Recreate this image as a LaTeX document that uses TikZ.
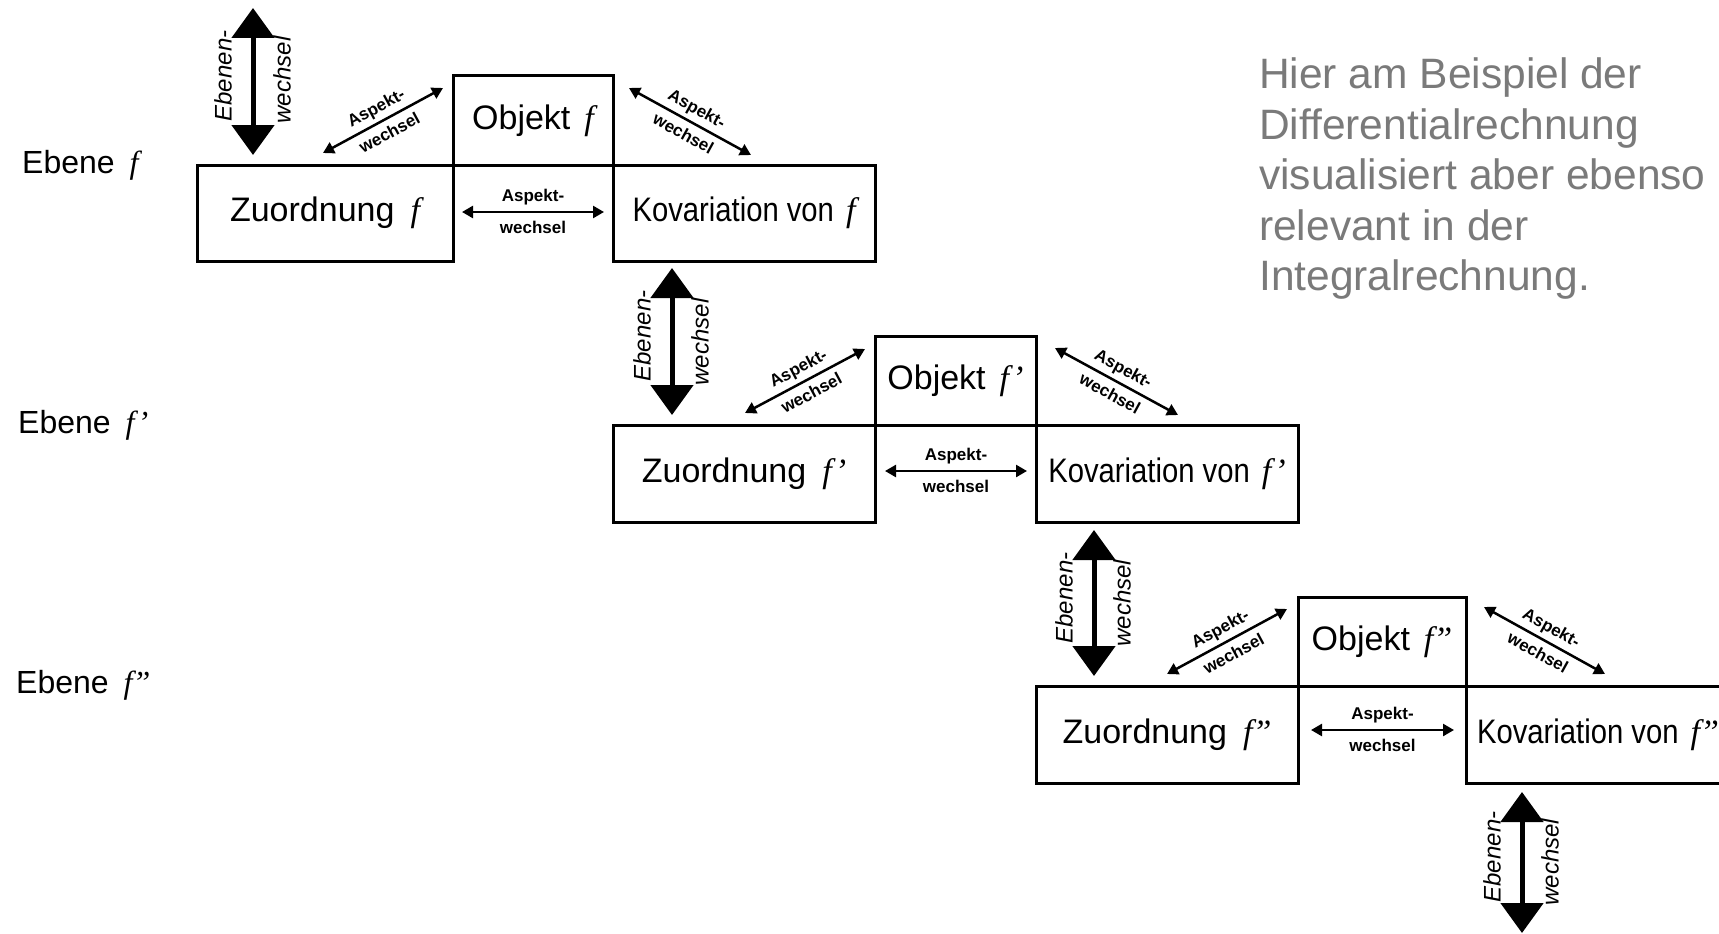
\documentclass[tikz,border=0pt]{standalone}
\usepackage{fontspec}
\setmainfont{Liberation Sans}
\newfontfamily\serfam{Liberation Serif}
\newfontfamily\condfam[FakeStretch=0.86]{Liberation Sans}
\usetikzlibrary{arrows.meta}
\newcommand\fitf{{\serfam\itshape f}}
\newcommand\fitfp{{\serfam\itshape f’}}
\newcommand\fitfpp{{\serfam\itshape f”}}
\definecolor{notegray}{gray}{0.48}
\begin{document}
\begin{tikzpicture}[x=1pt,y=-1pt,
  box/.style={draw, line width=3pt, inner sep=0pt, align=center,
    font=\fontsize{34}{40}\selectfont},
  lvl/.style={anchor=west, inner sep=0pt, font=\fontsize{32}{38}\selectfont},
  ebarrow/.style={line width=5pt,
    {Triangle[length=30pt,width=42pt]}-{Triangle[length=30pt,width=42pt]}},
  ebtext/.style={rotate=90, inner sep=0pt, font=\fontsize{24}{27}\selectfont\itshape},
  asarrow/.style={line width=2.5pt,
    {Triangle[length=11pt,width=12pt]}-{Triangle[length=11pt,width=12pt]}},
  aslab/.style={inner sep=0pt, font=\fontsize{17}{20}\selectfont\bfseries},
  note/.style={anchor=north west, inner sep=0pt, align=left, text=notegray,
    font=\fontsize{42.5}{50.5}\selectfont}]
\clip (0,0) rectangle (1719,934);
\fill[white] (0,0) rectangle (1719,934);

% ---------- level labels
\node[lvl] (l1) at (22,165) {Ebene\hspace{15pt}\fitf};
\node[lvl] (l2) at (18,425) {Ebene\hspace{15pt}\fitfp};
\node[lvl] (l3) at (16,685) {Ebene\hspace{15pt}\fitfpp};

% ---------- note
\node[note] (note) at (1259,58) {Hier am Beispiel der\\Differentialrechnung\\visualisiert aber ebenso\\relevant in der\\Integralrechnung.};

% ---------- level 1 boxes
\node[box, minimum width=256pt, minimum height=96pt] (z1) at (325,213) {Zuordnung\hspace{16pt}\fitf};
\node[box, minimum width=160pt, minimum height=89pt] (o1) at (533,120.5) {Objekt\hspace{14pt}\fitf};
\node[box, minimum width=262pt, minimum height=96pt] (k1) at (744,213) {{\condfam Kovariation von}\hspace{12pt}\fitf};

% ---------- level 2 boxes
\node[box, minimum width=262pt, minimum height=97pt] (z2) at (744,473.5) {Zuordnung\hspace{16pt}\fitfp};
\node[box, minimum width=161pt, minimum height=89pt] (o2) at (955.5,380.5) {Objekt\hspace{14pt}\fitfp};
\node[box, minimum width=262pt, minimum height=97pt] (k2) at (1167,473.5) {{\condfam Kovariation von}\hspace{12pt}\fitfp};

% ---------- level 3 boxes
\node[box, minimum width=262pt, minimum height=97pt] (z3) at (1167,734.5) {Zuordnung\hspace{16pt}\fitfpp};
\node[box, minimum width=168pt, minimum height=89pt] (o3) at (1382,641.5) {Objekt\hspace{14pt}\fitfpp};
\node[box, minimum width=264pt, minimum height=97pt] (k3) at (1598,734.5) {{\condfam Kovariation von}\hspace{12pt}\fitfpp};

% ---------- Ebenenwechsel arrows
\coordinate (e1a) at (253,8);    \coordinate (e1b) at (253,155);
\coordinate (e2a) at (672,268);  \coordinate (e2b) at (672,415);
\coordinate (e3a) at (1094,530); \coordinate (e3b) at (1094,676);
\coordinate (e4a) at (1522,792); \coordinate (e4b) at (1522,933);
\draw[ebarrow] (e1a) -- (e1b);
\draw[ebarrow] (e2a) -- (e2b);
\draw[ebarrow] (e3a) -- (e3b);
\draw[ebarrow] (e4a) -- (e4b);
\node[ebtext] (e1l) at (223,76) {Ebenen-};
\node[ebtext] (e1r) at (282,80) {wechsel};
\node[ebtext] (e2l) at (642,336) {Ebenen-};
\node[ebtext] (e2r) at (700,342) {wechsel};
\node[ebtext] (e3l) at (1064,598) {Ebenen-};
\node[ebtext] (e3r) at (1122,603) {wechsel};
\node[ebtext] (e4l) at (1492,857) {Ebenen-};
\node[ebtext] (e4r) at (1550,862) {wechsel};

% ---------- Aspektwechsel arrows, level 1
\coordinate (d1a) at (323,153); \coordinate (d1b) at (443,88);
\coordinate (d1c) at (629,88);  \coordinate (d1d) at (751,155);
\coordinate (h1a) at (462,212); \coordinate (h1b) at (604,212);
\draw[asarrow] (d1a) -- node[aslab, sloped, above=4pt] (d1t) {Aspekt-} node[aslab, sloped, below=6pt] (d1u) {wechsel} (d1b);
\draw[asarrow] (d1c) -- node[aslab, sloped, above=4pt] (d1v) {Aspekt-} node[aslab, sloped, below=6pt] (d1w) {wechsel} (d1d);
\draw[asarrow] (h1a) -- node[aslab, above=6pt] (h1t) {Aspekt-} node[aslab, below=8pt] (h1u) {wechsel} (h1b);

% ---------- level 2
\coordinate (d2a) at (745,413);  \coordinate (d2b) at (865,349);
\coordinate (d2c) at (1055,348); \coordinate (d2d) at (1178,415);
\coordinate (h2a) at (885,471);  \coordinate (h2b) at (1027,471);
\draw[asarrow] (d2a) -- node[aslab, sloped, above=4pt] (d2t) {Aspekt-} node[aslab, sloped, below=6pt] (d2u) {wechsel} (d2b);
\draw[asarrow] (d2c) -- node[aslab, sloped, above=4pt] (d2v) {Aspekt-} node[aslab, sloped, below=6pt] (d2w) {wechsel} (d2d);
\draw[asarrow] (h2a) -- node[aslab, above=6pt] (h2t) {Aspekt-} node[aslab, below=8pt] (h2u) {wechsel} (h2b);

% ---------- level 3
\coordinate (d3a) at (1167,674); \coordinate (d3b) at (1287,609);
\coordinate (d3c) at (1484,607); \coordinate (d3d) at (1605,674);
\coordinate (h3a) at (1311,730); \coordinate (h3b) at (1454,730);
\draw[asarrow] (d3a) -- node[aslab, sloped, above=4pt] (d3t) {Aspekt-} node[aslab, sloped, below=6pt] (d3u) {wechsel} (d3b);
\draw[asarrow] (d3c) -- node[aslab, sloped, above=4pt] (d3v) {Aspekt-} node[aslab, sloped, below=6pt] (d3w) {wechsel} (d3d);
\draw[asarrow] (h3a) -- node[aslab, above=6pt] (h3t) {Aspekt-} node[aslab, below=8pt] (h3u) {wechsel} (h3b);
\end{tikzpicture}
\end{document}
